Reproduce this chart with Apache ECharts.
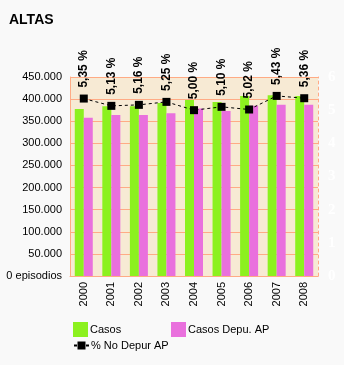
<!DOCTYPE html>
<html>
<head>
<meta charset="utf-8">
<script src="https://cdn.jsdelivr.net/npm/echarts@6/dist/echarts.min.js"></script>
<style>
  html, body { margin: 0; padding: 0; background: #f9f9f9; }
  #chart { width: 344px; height: 365px; }
</style>
</head>
<body>
<div id="chart"></div>
<script>
// Years on the category axis
const years = ['2000', '2001', '2002', '2003', '2004', '2005', '2006', '2007', '2008'];
// Episode counts (left axis)
const casos = [377500, 384000, 384000, 391000, 398000, 393500, 407000, 409000, 407000];
const casosDepuAP = [358000, 364000, 364000, 368000, 379000, 373000, 385000, 387000, 387000];
// Percentage not purged (right axis)
const pctNoDepur = [5.35, 5.13, 5.16, 5.25, 5.00, 5.10, 5.02, 5.43, 5.36];

const FONT = 'Liberation Sans, Arial, sans-serif';
const ORANGE = '#ffab85';

const chart = echarts.init(document.getElementById('chart'));

function thousands(v) {
  if (v === 0) return '0 episodios';
  return String(v).replace(/\B(?=(\d{3})+(?!\d))/g, '.');
}

const legendText = { fontFamily: FONT, fontSize: 11, color: '#000', padding: [0, 0, 0, -3] };

chart.setOption({
  backgroundColor: '#f9f9f9',
  animation: false,
  title: {
    text: 'ALTAS',
    left: 4, top: 8,
    textStyle: { fontFamily: FONT, fontSize: 14, fontWeight: 'bold', color: '#000' }
  },
  grid: {
    left: 70, right: 26, top: 77, bottom: 89,
    show: true, backgroundColor: '#f7ead4', borderWidth: 0
  },
  legend: [
    {
      data: ['Casos'], left: 73, top: 322, padding: 0,
      itemWidth: 15, itemHeight: 15,
      icon: 'rect', textStyle: legendText
    },
    {
      data: ['Casos Depu. AP'], left: 171, top: 322, padding: 0,
      itemWidth: 15, itemHeight: 15,
      icon: 'rect', textStyle: legendText
    },
    {
      data: ['% No Depur AP'], left: 73, top: 340, padding: 0,
      itemWidth: 15, itemHeight: 10,
      textStyle: legendText
    }
  ],
  xAxis: {
    type: 'category',
    data: years,
    axisLine: { show: true, lineStyle: { color: ORANGE, width: 1 } },
    axisTick: { show: false },
    axisLabel: {
      rotate: 90, margin: 6, color: '#000',
      fontFamily: FONT, fontSize: 11
    },
    splitLine: { show: false }
  },
  yAxis: [
    {
      type: 'value', min: 0, max: 450000, interval: 50000,
      axisLine: { show: true, lineStyle: { color: ORANGE, width: 1 } },
      axisTick: { show: false },
      axisLabel: {
        margin: 8, color: '#000', fontFamily: FONT, fontSize: 11,
        formatter: thousands
      },
      splitLine: { show: true, lineStyle: { color: ORANGE, width: 1 } }
    },
    {
      type: 'value', min: 0, max: 6, interval: 1,
      position: 'right',
      axisLine: { show: true, lineStyle: { color: ORANGE, width: 1, type: [3, 3] } },
      axisTick: { show: false },
      axisLabel: {
        margin: 10, color: '#ffffff', fontFamily: 'Liberation Serif, serif',
        fontSize: 15, fontWeight: 'bold'
      },
      splitLine: { show: false }
    }
  ],
  series: [
    {
      name: 'Casos', type: 'bar', data: casos,
      barWidth: 9, barGap: '0%',
      itemStyle: { color: '#8cf11f' }
    },
    {
      name: 'Casos Depu. AP', type: 'bar', data: casosDepuAP,
      barWidth: 9, barGap: '0%',
      itemStyle: { color: '#e970dd' }
    },
    {
      name: '% No Depur AP', type: 'line', yAxisIndex: 1, data: pctNoDepur,
      symbol: 'rect', symbolSize: 8,
      itemStyle: { color: '#000' },
      lineStyle: { color: '#000', width: 1, type: [3, 3] },
      label: {
        show: true, position: 'top', distance: 9, rotate: 90,
        align: 'left', verticalAlign: 'middle', offset: [-2, 0],
        color: '#000', fontFamily: FONT, fontSize: 12, fontWeight: 'bold',
        formatter: p => p.value.toFixed(2).replace('.', ',') + ' %'
      },
      z: 5
    }
  ]
});
</script>
</body>
</html>
